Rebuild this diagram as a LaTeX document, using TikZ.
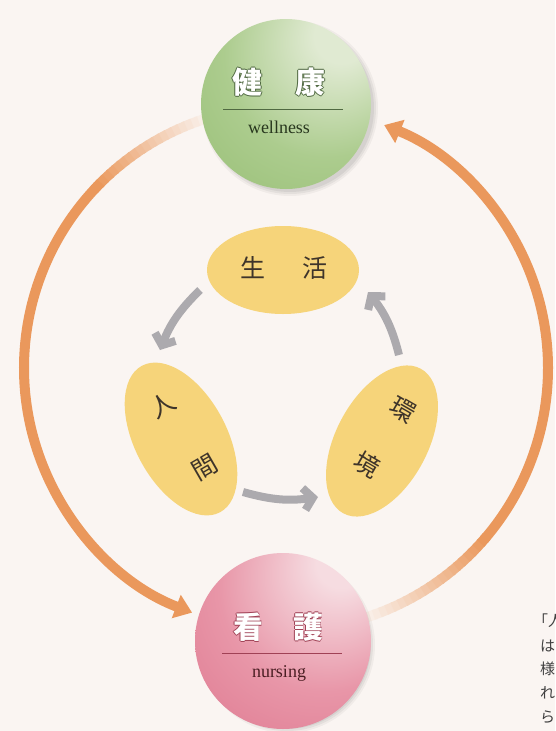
\documentclass[tikz,border=0pt]{standalone}
\usepackage{fontspec}
\setmainfont{Liberation Serif}
\newfontfamily\jp{Noto Sans CJK JP}
\usetikzlibrary{arrows.meta,shapes.geometric,calc}
\definecolor{bgc}{RGB}{250,245,242}
\definecolor{arcorange}{RGB}{234,152,92}
\definecolor{arrgray}{RGB}{172,170,174}
\definecolor{yel}{RGB}{246,212,122}
\definecolor{inktext}{RGB}{62,52,42}
\definecolor{gHi}{RGB}{224,234,210}
\definecolor{gMid}{RGB}{172,204,142}
\definecolor{gBase}{RGB}{146,187,110}
\definecolor{gEdge}{RGB}{122,166,90}
\definecolor{gDark}{RGB}{80,105,65}
\definecolor{gInk}{RGB}{40,55,30}
\definecolor{pHi}{RGB}{246,220,225}
\definecolor{pMid}{RGB}{232,150,168}
\definecolor{pBase}{RGB}{220,114,138}
\definecolor{pEdge}{RGB}{204,94,118}
\definecolor{pDark}{RGB}{160,65,85}
\definecolor{pInk}{RGB}{75,30,35}
\pgfdeclareradialshading{greenball}{\pgfpoint{18bp}{22bp}}{color(0bp)=(gHi); color(8bp)=(gHi); color(30bp)=(gMid); color(56bp)=(gBase); color(86bp)=(gEdge)}
\pgfdeclareradialshading{pinkball}{\pgfpoint{18bp}{24bp}}{color(0bp)=(pHi); color(7bp)=(pHi); color(30bp)=(pMid); color(56bp)=(pBase); color(86bp)=(pEdge)}
\newcommand\outl[2]{\leavevmode\rlap{\color{#1}\kern0.7pt #2}\rlap{\color{#1}\kern-0.7pt #2}\rlap{\color{#1}\raisebox{0.7pt}{#2}}\rlap{\color{#1}\raisebox{-0.7pt}{#2}}{\color{white}#2}}
\tikzset{
  bigarc/.style={line width=10pt},
  grayarr/.style={arrgray, line width=8pt, -{Straight Barb[length=9pt,width=22pt]}},
  yelbox/.style={ellipse, fill=yel, inner sep=0pt},
  inner/.style={font=\jp\fontsize{25pt}{25pt}\selectfont, text=inktext, inner sep=0pt},
  ball/.style={circle, inner sep=0pt, minimum size=170pt},
  side/.style={font=\jp\fontsize{15pt}{15pt}\selectfont, text=black!75, inner sep=0pt, anchor=west}
}
\begin{document}
\begin{tikzpicture}[x=1pt,y=1pt]
\fill[bgc] (0,0) rectangle (555,-731);
\useasboundingbox (0,0) rectangle (555,-731);
\coordinate (C) at (286,-368);
% left orange arc (fading in near the top)
\foreach \a in {108,109.5,...,135}{
  \pgfmathtruncatemacro\p{8+92*(\a-108)/27}
  \draw[bigarc, arcorange!\p!bgc] ([shift={(\a:262)}]C) arc[start angle=\a, end angle=\a+2, radius=262];
}
\draw[bigarc, arcorange, -{Triangle[width=24pt,length=17pt]}] ([shift={(136:262)}]C) arc[start angle=136, end angle=249, radius=262];
% right orange arc (fading in near the bottom)
\foreach \a in {-72,-70.5,...,-42}{
  \pgfmathtruncatemacro\p{8+92*(\a+72)/30}
  \draw[bigarc, arcorange!\p!bgc] ([shift={(\a:262)}]C) arc[start angle=\a, end angle=\a+2, radius=262];
}
\draw[bigarc, arcorange, -{Triangle[width=24pt,length=17pt]}] ([shift={(-41:262)}]C) arc[start angle=-41, end angle=68, radius=262];
% shadows of the spheres
\foreach \r/\o in {88/0.04,86/0.05,84/0.06}{
  \fill[black, opacity=\o] (290,-108) circle[radius=\r];
  \fill[black, opacity=\o] (287,-645) circle[radius=\r];
}
% spheres
\node[ball, shading=greenball] (well) at (286,-104) {};
\node[ball, shading=pinkball, minimum size=176pt] (nurs) at (283,-641) {};
% sphere labels
\node[font=\jp\bfseries\fontsize{30pt}{30pt}\selectfont, inner sep=0pt] (kenko) at (279,-82) {\outl{gDark}{健}\hspace{33pt}\outl{gDark}{康}};
\coordinate (wl1) at (223,-109);
\coordinate (wl2) at (343,-109);
\draw[gDark, line width=0.8pt] (wl1) -- (wl2);
\node[font=\fontsize{18pt}{18pt}\selectfont, text=gInk, inner sep=0pt, anchor=base] (wtxt) at (279,-133) {wellness};
\node[font=\jp\bfseries\fontsize{30pt}{30pt}\selectfont, inner sep=0pt] (kango) at (278,-627) {\outl{pDark}{看}\hspace{30pt}\outl{pDark}{護}};
\coordinate (nl1) at (222,-653);
\coordinate (nl2) at (342,-653);
\draw[pDark, line width=0.8pt] (nl1) -- (nl2);
\node[font=\fontsize{18pt}{18pt}\selectfont, text=pInk, inner sep=0pt, anchor=base] (ntxt) at (279,-677) {nursing};
% yellow ellipses
\node[yelbox, minimum width=152pt, minimum height=88pt] (life) at (283,-270) {};
\node[yelbox, minimum width=92pt, minimum height=166pt, rotate=28] (human) at (181,-439) {};
\node[yelbox, minimum width=92pt, minimum height=164pt, rotate=-28] (env) at (382,-441) {};
\node[inner] (sei) at (253,-268) {生};
\node[inner] (katsu) at (315,-268) {活};
\node[inner, rotate=30] (nin) at (163,-405) {人};
\node[inner, rotate=30] (gen) at (205,-467) {間};
\node[inner, rotate=-30] (kan) at (403,-410) {環};
\node[inner, rotate=-30] (kyo) at (367,-465) {境};
% gray arrows
\coordinate (g1s) at (200,-290);
\coordinate (g1e) at (160,-350);
\coordinate (g2s) at (243,-492);
\coordinate (g2e) at (318,-497);
\coordinate (g3s) at (399,-355);
\coordinate (g3e) at (368,-292);
\draw[grayarr] (g1s) to[bend right=12] (g1e);
\draw[grayarr] (g2s) to[bend right=12] (g2e);
\draw[grayarr] (g3s) to[bend right=12] (g3e);
% text cut off at the right edge
\node[side] (s1) at (533,-621) {「人};
\node[side] (s2) at (540,-646) {は};
\node[side] (s3) at (540,-669) {様};
\node[side] (s4) at (540,-693) {れ};
\node[side] (s5) at (540,-717) {ら};
\end{tikzpicture}
\end{document}
